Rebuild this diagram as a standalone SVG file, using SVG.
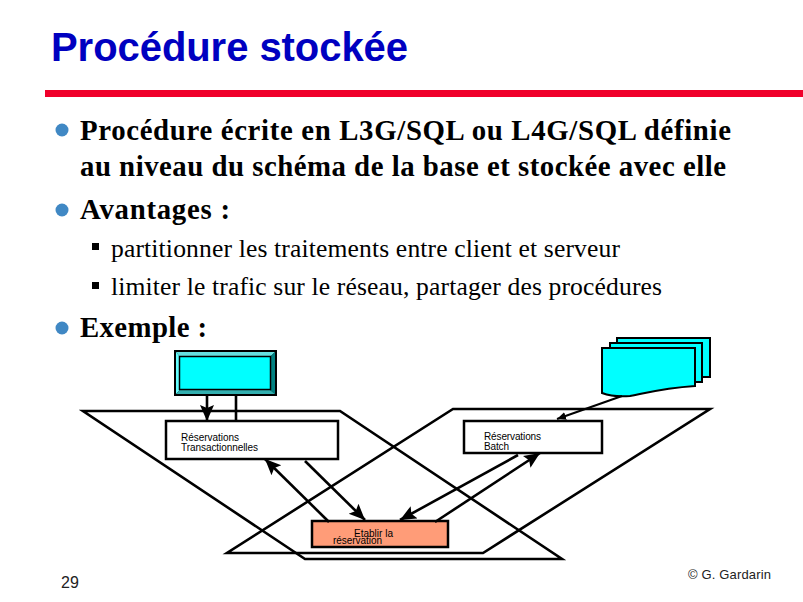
<svg xmlns="http://www.w3.org/2000/svg" width="803" height="602" viewBox="0 0 803 602">
<style>
.b{font-family:"Liberation Serif","Times New Roman",serif;font-weight:bold;font-size:28.8px;fill:#000}
.s{font-family:"Liberation Serif","Times New Roman",serif;font-size:25.6px;fill:#000}
.t{font-family:"Liberation Sans",Arial,sans-serif;font-size:10px;fill:#000}
.f{font-family:"Liberation Sans",Arial,sans-serif;fill:#222}
.ln{fill:none;stroke:#000;stroke-width:2.6}
.box{stroke:#000;stroke-width:2.5}
.doc{fill:#00ffff;stroke:#000;stroke-width:2}
</style>
<defs>
<marker id="ah" markerUnits="userSpaceOnUse" markerWidth="18" markerHeight="16" refX="16" refY="8" orient="auto"><path d="M0 1L16 8L0 15L3 8Z" fill="#000"/></marker>
<marker id="ahs" markerUnits="userSpaceOnUse" markerWidth="10" markerHeight="8" refX="9" refY="4" orient="auto"><path d="M0 0L9 4L0 8Z" fill="#000"/></marker>
</defs>
<rect width="803" height="602" fill="#fff"/>
<text x="51" y="61" font-family="'Liberation Sans',Arial,sans-serif" font-weight="bold" font-size="40px" fill="#0000c0" textLength="357" lengthAdjust="spacing">Procédure stockée</text>
<rect x="45" y="90" width="758" height="7" fill="#f0002a"/>
<g id="text">
<circle cx="62" cy="130" r="6.5" fill="#4088c4"/>
<text class="b" x="80" y="140" textLength="651">Procédure écrite en L3G/SQL ou L4G/SQL définie</text>
<text class="b" x="80" y="176" textLength="646">au niveau du schéma de la base et stockée avec elle</text>
<circle cx="62" cy="210" r="6.5" fill="#4088c4"/>
<text class="b" x="80" y="219" textLength="150">Avantages :</text>
<rect x="92" y="243" width="7" height="7" fill="#000"/>
<text class="s" x="111" y="257" textLength="509">partitionner les traitements entre client et serveur</text>
<rect x="92" y="282" width="7" height="7" fill="#000"/>
<text class="s" x="111" y="295" textLength="551">limiter le trafic sur le réseau, partager des procédures</text>
<circle cx="62" cy="328" r="6.5" fill="#4088c4"/>
<text class="b" x="80" y="337" textLength="127">Exemple :</text>
</g>
<g id="schemas">
<path class="ln" d="M83 411H340L562 559H305Z"/>
<path class="ln" d="M453 409H710L483 553H227Z"/>
</g>
<g id="terminal">
<rect x="174" y="350" width="103" height="46" fill="#000"/>
<path d="M176 352H275L270 357H180Z" fill="#66e0e0"/>
<path d="M176 352L180 357V390L176 394Z" fill="#66ffff"/>
<path d="M275 352L270 357V390L275 394Z" fill="#008080"/>
<path d="M176 394L180 390H270L275 394Z" fill="#33b0b0"/>
<rect x="179.500" y="356.500" width="91" height="33" fill="#00ffff" stroke="#000" stroke-width="1.5"/>
</g>
<g id="documents">
<rect class="doc" x="617" y="338" width="93" height="39"/>
<rect class="doc" x="610" y="343" width="92" height="39"/>
<path class="doc" d="M602 348H695V386C665 388 650 392 630 396C618 397 610 396 602 393Z"/>
</g>
<g id="reservations-transactionnelles">
<rect class="box" x="166" y="421" width="172" height="38" fill="#fff"/>
<text class="t" x="181" y="441" textLength="58">Réservations</text>
<text class="t" x="181" y="451" textLength="77">Transactionnelles</text>
</g>
<g id="reservations-batch">
<rect class="box" x="464" y="421" width="138" height="32" fill="#fff"/>
<text class="t" x="484" y="440" textLength="57">Réservations</text>
<text class="t" x="484" y="450" textLength="25">Batch</text>
</g>
<g id="etablir">
<rect class="box" x="312" y="521" width="136" height="26" fill="#ff9c78"/>
<text class="t" x="354" y="537" textLength="39">Etablir la</text>
<text class="t" x="333" y="544" textLength="49">réservation</text>
</g>
<g id="connectors">
<path class="ln" d="M207 396V421" marker-end="url(#ah)"/>
<path class="ln" d="M236 396V421"/>
<path class="ln" d="M329 522L265 459" marker-end="url(#ah)"/>
<path class="ln" d="M305 461L365 520" marker-end="url(#ah)"/>
<path class="ln" d="M518 455L400 520" marker-end="url(#ah)"/>
<path class="ln" d="M435 522L540 453" marker-end="url(#ah)"/>
<path d="M622 396L557 419" fill="none" stroke="#000" stroke-width="2" marker-end="url(#ahs)"/>
</g>
<text class="f" x="61" y="588" font-size="16px" textLength="18">29</text>
<text class="f" x="688" y="579" font-size="13px" textLength="83">© G. Gardarin</text>
</svg>
